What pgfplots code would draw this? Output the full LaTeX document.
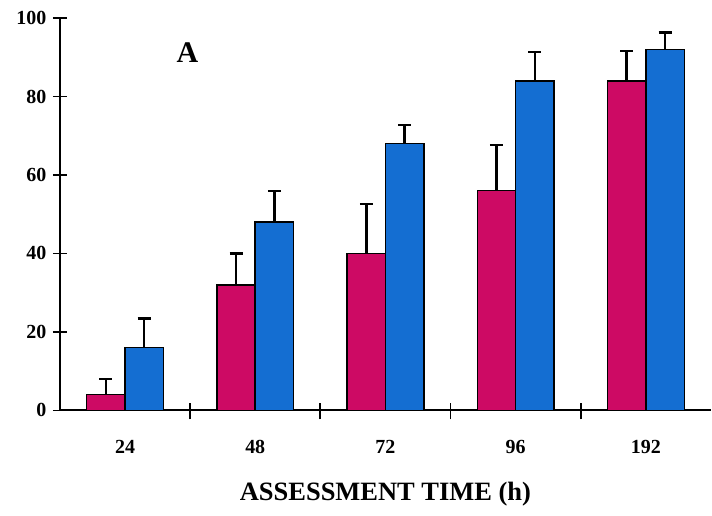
\documentclass[border=0pt]{standalone}
\usepackage{fontspec}
\setmainfont{Liberation Serif}
\usepackage{pgfplots}
\pgfplotsset{compat=1.18}
\definecolor{mag}{RGB}{205,10,100}
\definecolor{blu}{RGB}{20,110,210}
\begin{document}
\begin{tikzpicture}
\begin{axis}[
  width=652pt, height=393pt, scale only axis,
  xmin=-0.5, xmax=4.5, ymin=0, ymax=100,
  axis x line*=bottom, axis y line*=left,
  axis line style={line width=2pt, -},
  ytick={0,20,...,100},
  xtick={0,1,2,3,4}, xticklabels={24,48,72,96,192},
  minor xtick={0.5,1.5,2.5,3.5},
  major tick length=14pt, minor tick length=16pt,
  major x tick style={draw=none},
  tick style={line width=1.8pt, black},
  minor x tick style={line width=1.8pt, black, yshift=7pt},
  major y tick style={line width=1.8pt, black, xshift=-7pt},
  ticklabel style={font=\bfseries\fontsize{20}{20}\selectfont},
  /pgf/number format/assume math mode=true,
  xticklabel style={anchor=north, yshift=-12pt},
  yticklabel style={anchor=east, xshift=-10pt},
  xlabel={ASSESSMENT TIME (h)},
  xlabel style={font=\bfseries\fontsize{26.5}{26.5}\selectfont, at={(axis description cs:0.5,0)}, anchor=center, yshift=-84pt},
  ybar=0pt, bar width=0.295,
  clip=false,
  error bars/y dir=plus, error bars/y explicit,
  error bars/error bar style={line width=2.5pt, black, solid},
  error bars/error mark options={line width=2.2pt, mark size=6.5pt, black, rotate=90},
]
\addplot[fill=mag, draw=black, line width=1.5pt] coordinates {
  (0,4) +- (0,4)
  (1,32) +- (0,8)
  (2,40) +- (0,12.7)
  (3,56) +- (0,11.7)
  (4,84) +- (0,7.5)
};
\addplot[fill=blu, draw=black, line width=1.5pt] coordinates {
  (0,16) +- (0,7.4)
  (1,48) +- (0,8)
  (2,68) +- (0,4.8)
  (3,84) +- (0,7.4)
  (4,92) +- (0,4.3)
};
\node[font=\bfseries\fontsize{30}{30}\selectfont] at (axis cs:0.48,91.3) {A};
\end{axis}
\useasboundingbox (-60pt,-105pt) rectangle (652pt,411pt);
\end{tikzpicture}
\end{document}
